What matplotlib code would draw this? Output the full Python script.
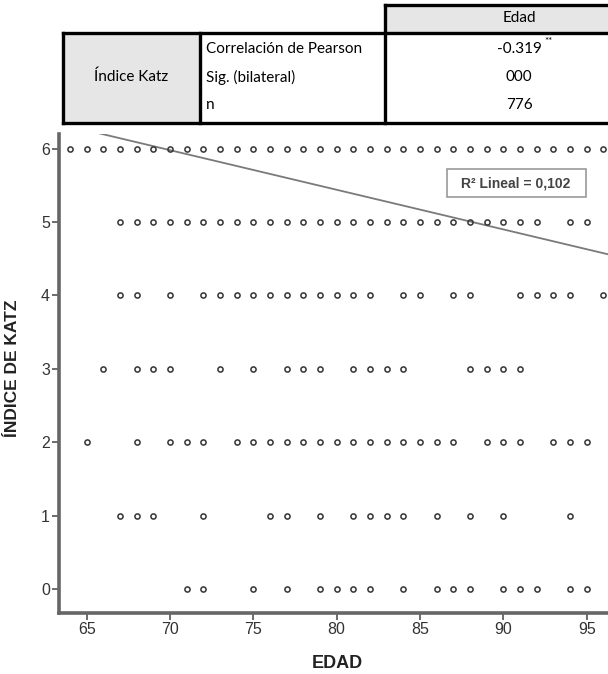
import matplotlib
matplotlib.use("Agg")
import matplotlib.pyplot as plt
from matplotlib.patches import Rectangle
from matplotlib.lines import Line2D

# ---------------- data ----------------
katz_levels = [6, 5, 4, 3, 2, 1, 0]
ages_katz6 = list(range(64, 97))
ages_katz5 = list(range(67, 93)) + [94, 95]
ages_katz4 = [67, 68, 70, 72, 73, 74, 75, 76, 77, 78, 79, 80, 81, 82, 84, 85, 87, 88, 91, 92, 93, 94, 96]
ages_katz3 = [66, 68, 69, 70, 73, 75, 77, 78, 79, 81, 82, 83, 84, 88, 89, 90, 91]
ages_katz2 = [65, 68, 70, 71, 72] + list(range(74, 88)) + [89, 90, 91, 93, 94, 95]
ages_katz1 = [67, 68, 69, 72, 76, 77, 79, 81, 82, 83, 84, 86, 88, 90, 94]
ages_katz0 = [71, 72, 75, 77, 79, 80, 81, 82, 84, 86, 87, 88, 90, 91, 92, 94, 95]
ages_by_level = [ages_katz6, ages_katz5, ages_katz4, ages_katz3, ages_katz2, ages_katz1, ages_katz0]

fit_intercept = 9.76
fit_slope = -0.054
r2_label = "R² Lineal = 0,102"

x_ticks = [65, 70, 75, 80, 85, 90, 95]
y_ticks = [0, 1, 2, 3, 4, 5, 6]

table_header = "Edad"
table_row_group = "Índice Katz"
table_row_labels = ["Correlación de Pearson", "Sig. (bilateral)", "n"]
table_values = ["-0.319", "000", "776"]

# ---------------- figure ----------------
W, H = 608, 674
fig = plt.figure(figsize=(W / 100, H / 100), dpi=100)

def fx(x):
    return x / W

def fy(y):
    return 1 - y / H

ax_l, ax_r, ax_t, ax_b = 59, 608, 134, 613
ax = fig.add_axes([fx(ax_l), fy(ax_b), (ax_r - ax_l) / W, (ax_b - ax_t) / H])
ax.set_xlim(63.34, 96.28)
ax.set_ylim(-0.327, 6.2)

for lvl, ages in zip(katz_levels, ages_by_level):
    ax.plot(ages, [lvl] * len(ages), linestyle="none", marker="o",
            markersize=3.7, markerfacecolor="none", markeredgecolor="#3a3a3a",
            markeredgewidth=1.15, zorder=3)

xx = [63.34, 96.28]
ax.plot(xx, [fit_intercept + fit_slope * v for v in xx], color="#7a7a7a", lw=1.3, zorder=2)

for s in ["top", "right"]:
    ax.spines[s].set_visible(False)
for s in ["left", "bottom"]:
    ax.spines[s].set_linewidth(2.6)
    ax.spines[s].set_color("#666666")

ax.set_xticks(x_ticks)
ax.set_yticks(y_ticks)
ax.tick_params(direction="out", length=5, width=1.1, color="#444444",
               labelsize=11.5, labelcolor="#333333", pad=1.5)
for lab in ax.get_xticklabels() + ax.get_yticklabels():
    lab.set_family("Liberation Sans")

fig.text(fx(13), fy(368), "ÍNDICE DE KATZ", rotation=90, ha="center", va="center",
         fontsize=12.5, fontweight="bold", family="Liberation Sans", color="#222222")
fig.text(fx(337), fy(663), "EDAD", ha="center", va="center",
         fontsize=13, fontweight="bold", family="Liberation Sans", color="#222222")

# R2 box
fig.patches.append(Rectangle((fx(447), fy(197)), (586 - 447) / W, (197 - 169) / H,
                             transform=fig.transFigure, facecolor="white",
                             edgecolor="#999999", lw=1.2, zorder=5))
fig.text(fx(516), fy(183), r2_label, ha="center", va="center", fontsize=10,
         fontweight="bold", family="Liberation Sans", color="#444444", zorder=6)

# ---------------- table ----------------
x0, x1, x2, xr = 63, 200, 385, 650
hy0, hy1 = 5, 32
my0, my1 = 33, 123
gray = "#e6e6e6"
tfont = "Lato"
tsize = 11

def rect(xa, ya, xb, yb, fc):
    fig.patches.append(Rectangle((fx(xa), fy(yb)), (xb - xa) / W, (yb - ya) / H,
                                 transform=fig.transFigure, facecolor=fc,
                                 edgecolor="none", zorder=1))

def line(xa, ya, xb, yb, lw=2.4, c="black"):
    fig.lines.append(Line2D([fx(xa), fx(xb)], [fy(ya), fy(yb)], transform=fig.transFigure,
                            color=c, lw=lw, solid_capstyle="projecting", zorder=2))

rect(x2, hy0, xr, hy1, gray)
rect(x0, my0, x1, my1, gray)
# header borders
line(x2, hy0, xr, hy0)
line(x2, hy0, x2, hy1)
line(x2, hy1, xr, hy1, lw=0.8, c="#888888")
# main block borders
line(x0, my0, xr, my0)
line(x0, my1, xr, my1)
line(x0, my0, x0, my1)
line(x1, my0, x1, my1)
line(x2, my0, x2, my1)

row_y = [49, 77, 105]
cx_val = 519
fig.text(fx(cx_val), fy((hy0 + hy1) / 2), table_header, ha="center", va="center",
         fontsize=tsize, family=tfont, color="black", zorder=3)
fig.text(fx((x0 + x1) / 2), fy(row_y[1]), table_row_group, ha="center", va="center",
         fontsize=tsize, family=tfont, color="black", zorder=3)
for ry, lab, val in zip(row_y, table_row_labels, table_values):
    fig.text(fx(x1 + 6), fy(ry), lab, ha="left", va="center",
             fontsize=tsize, family=tfont, color="black", zorder=3)
    fig.text(fx(cx_val), fy(ry), val, ha="center", va="center",
             fontsize=tsize, family=tfont, color="black", zorder=3)
fig.text(fx(cx_val + 25), fy(row_y[0] - 8), "**", ha="left", va="center",
         fontsize=7, family=tfont, color="black", zorder=3)

fig.savefig("out.png", dpi=100)
